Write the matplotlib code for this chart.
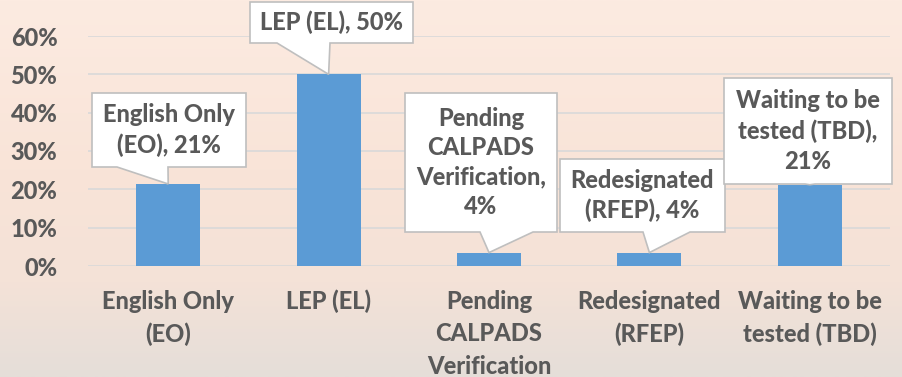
import matplotlib
matplotlib.use('Agg')
import matplotlib.pyplot as plt
import numpy as np
from matplotlib.patches import Polygon
from matplotlib.transforms import IdentityTransform

# ---------------- data ----------------
categories = ["English Only\n(EO)", "LEP (EL)", "Pending\nCALPADS\nVerification",
              "Redesignated\n(RFEP)", "Waiting to be\ntested (TBD)"]
shares = [0.214, 0.50, 0.035, 0.035, 0.212]
callout_texts = ["English Only\n(EO), 21%", "LEP (EL), 50%",
                 "Pending\nCALPADS\nVerification,\n4%",
                 "Redesignated\n(RFEP), 4%",
                 "Waiting to be\ntested (TBD),\n21%"]

# callout boxes in image pixels (left, top, right, bottom) and tail base x-range
BOXES = [(92, 93, 246, 167), (250, 2, 413, 43), (405, 93, 557, 232),
         (560, 159, 725, 232), (724, 78, 892, 184)]
TAILS = [(117, 168), (277, 330), (480, 533), (643, 690), (805, 815)]

W, H = 903, 377
TEXT = "#595959"
BAR = "#5B9BD5"

plt.rcParams['font.family'] = ['Lato', 'DejaVu Sans']

fig = plt.figure(figsize=(W / 100, H / 100), dpi=100)

# background gradient
bg = fig.add_axes([0, 0, 1, 1], zorder=-5)
stops = np.array([[252, 235, 225], [249, 228, 216], [244, 226, 215], [229, 222, 217]]) / 255.0
pos = np.array([0.0, 0.45, 0.75, 1.0])
t = np.linspace(0, 1, 200)
grad = np.stack([np.interp(t, pos, stops[:, c]) for c in range(3)], axis=1)
bg.imshow(grad[:, None, :], aspect='auto', extent=[0, 1, 0, 1])
bg.axis('off')

ax = fig.add_axes([88 / W, 1 - 266 / H, (890 - 88) / W, (266 - 36) / H])
ax.set_facecolor('none')
x = np.arange(len(categories))
ax.bar(x, shares, width=0.4, color=BAR, zorder=3)
ax.set_xlim(-0.5, len(categories) - 0.5)
ax.set_ylim(0, 0.6)
ax.set_yticks(np.arange(0, 0.61, 0.1))
ax.set_yticklabels([f"{int(round(v * 100))}%" for v in np.arange(0, 0.61, 0.1)])
ax.set_xticks(x)
ax.set_xticklabels(categories, linespacing=1.5)
ax.yaxis.grid(True, color="#D9D9D9", linewidth=1.2, zorder=0)
ax.tick_params(axis='y', length=0, pad=22, labelsize=17, labelcolor=TEXT)
ax.tick_params(axis='x', length=0, pad=17, labelsize=17, labelcolor=TEXT)
for lbl in ax.get_xticklabels() + ax.get_yticklabels():
    lbl.set_fontweight('black')
for s in ax.spines.values():
    s.set_visible(False)

fig.canvas.draw()

# callouts
for i, (txt, box, tail) in enumerate(zip(callout_texts, BOXES, TAILS)):
    l, tp, r, b = box
    tipx, tipy = ax.transData.transform((x[i], shares[i]))
    verts = [(l, H - tp), (r, H - tp), (r, H - b), (tail[1], H - b),
             (tipx, tipy), (tail[0], H - b), (l, H - b)]
    poly = Polygon(verts, closed=True, facecolor="white", edgecolor="#BFBFBF",
                   linewidth=1.2, transform=IdentityTransform(), zorder=10)
    fig.add_artist(poly)
    fig.text((l + r) / 2, H - (tp + b) / 2, txt, transform=IdentityTransform(),
             ha='center', va='center', fontsize=17, fontweight='black', color=TEXT,
             linespacing=1.35, zorder=11)

fig.savefig("out.png", dpi=100)
